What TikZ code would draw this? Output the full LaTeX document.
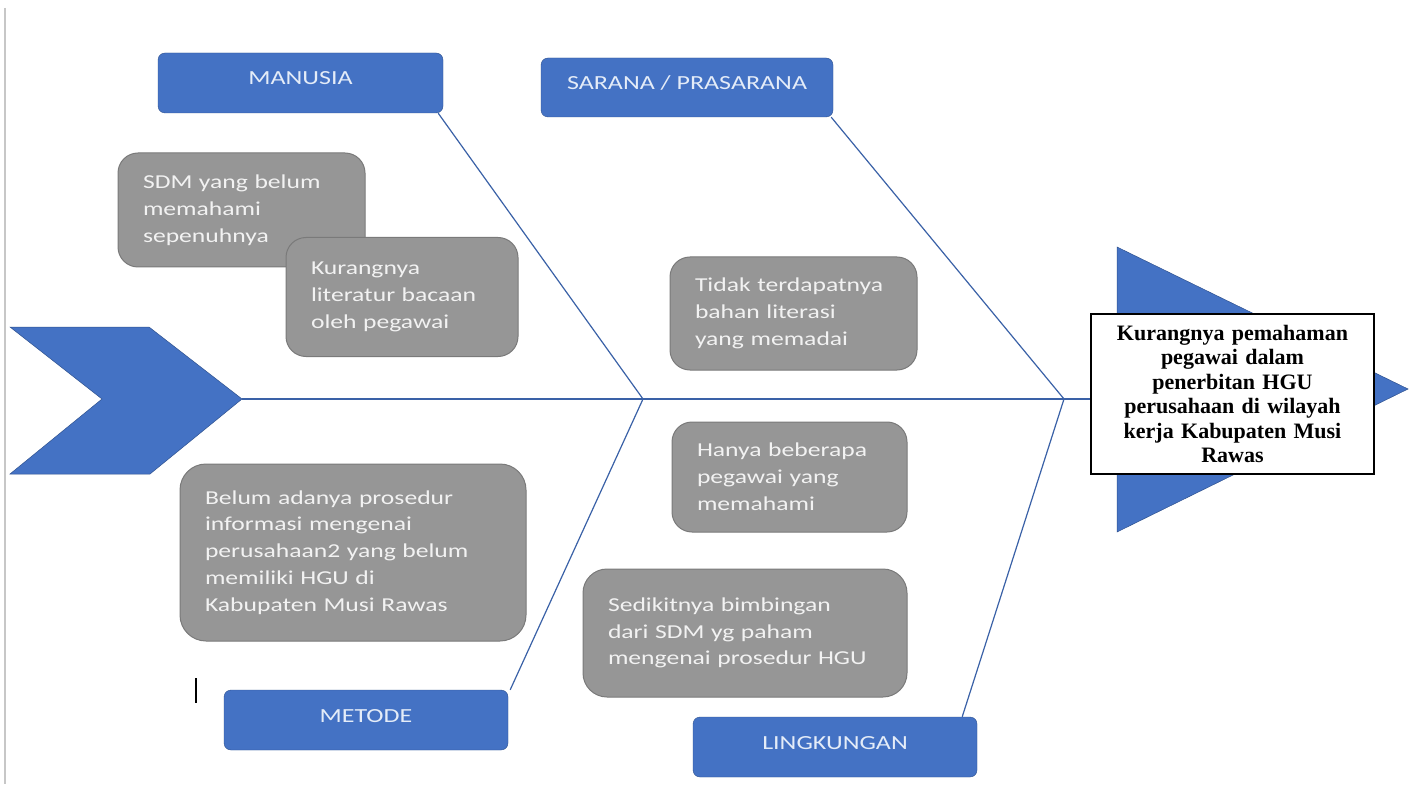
\documentclass[tikz,border=0pt]{standalone}
\usepackage{fontspec}
\newfontfamily\calib[FakeStretch=1.3]{Carlito}
\newfontfamily\tnrfont{Liberation Serif}
\definecolor{fishblue}{RGB}{68,114,196}
\definecolor{fishedge}{RGB}{47,82,143}
\definecolor{boxgray}{RGB}{150,150,150}
\definecolor{boxedge}{RGB}{122,122,122}
\definecolor{labeltext}{RGB}{228,236,248}
\begin{document}
\begin{tikzpicture}[x=1pt,y=-1pt,
  category/.style={draw=fishedge,fill=fishblue,rounded corners=7pt,inner sep=0pt,text=labeltext,
    font=\calib\fontsize{20}{24}\selectfont,text height=13pt,text depth=9pt},
  cause/.style={draw=boxedge,line width=1pt,fill=boxgray,rounded corners=20pt,inner xsep=25pt,inner ysep=0pt,
    align=left,text=white!95!black,font=\calib\fontsize{19.7}{26.8}\selectfont},
  bone/.style={draw=fishblue!85!black,line width=1.2pt}]
\useasboundingbox[fill=white] (0,0) rectangle (1415,791);
\draw[black!22,line width=2pt] (5,8) -- (5,784); % page edge
\draw[black,line width=2pt] (196,678) -- (196,703);
% tail and head of the fish
\coordinate (tail) at (242,399);
\coordinate (j1) at (643,399);
\coordinate (j2) at (1064,399);
\filldraw[fishblue,draw=fishedge,line width=0.5pt] (10,327) -- (149,327) -- (tail) -- (150,474) -- (10,474) -- (102,399) -- cycle;
\filldraw[fishblue,draw=fishedge,line width=0.5pt] (1117,247) -- (1408,389) -- (1117,532) -- cycle;
% causes
\node[cause,text width=197pt,minimum height=114pt] (sdm) at (241.5,210) {SDM yang belum\\memahami\\sepenuhnya};
\node[cause,text width=182pt,minimum height=119pt] (lit) at (402,297) {Kurangnya\\literatur bacaan\\oleh pegawai};
\node[cause,text width=197pt,minimum height=113pt] (tid) at (793.5,313.5) {Tidak terdapatnya\\bahan literasi\\yang memadai};
\node[cause,text width=185pt,minimum height=110pt] (han) at (789.5,477) {Hanya beberapa\\pegawai yang\\memahami};
\node[cause,text width=296pt,minimum height=177pt,rounded corners=26pt] (bel) at (353,552.5) {Belum adanya prosedur\\informasi mengenai\\perusahaan2 yang belum\\memiliki HGU di\\Kabupaten Musi Rawas};
\node[cause,text width=274pt,minimum height=128pt,rounded corners=24pt] (sed) at (745,633) {Sedikitnya bimbingan\\dari SDM yg paham\\mengenai prosedur HGU};
% categories
\node[category,minimum width=285pt,minimum height=60pt] (man) at (300.5,83) {MANUSIA};
\node[category,minimum width=292pt,minimum height=59pt] (sar) at (687,87.5) {SARANA / PRASARANA};
\node[category,minimum width=284pt,minimum height=60pt] (met) at (366,720) {METODE};
\node[category,minimum width=284pt,minimum height=60pt] (lin) at (835,747) {LINGKUNGAN};
% effect
\node[draw=black,line width=1.3pt,fill=white,minimum width=283pt,minimum height=160pt,text width=263pt,inner xsep=10pt,
  align=center,font=\tnrfont\bfseries\fontsize{22}{24.5}\selectfont] (effect) at (1232.5,394)
  {Kurangnya pemahaman\\pegawai dalam\\penerbitan HGU\\perusahaan di wilayah\\kerja Kabupaten Musi\\Rawas};
% bones
\draw[bone] (tail) -- (tail -| effect.west);
\draw[bone] ([xshift=-5pt]man.south east) -- (j1) -- ([xshift=2pt]met.north east);
\draw[bone] ([xshift=-2pt]sar.south east) -- (j2) -- ([xshift=-15pt]lin.north east);
\end{tikzpicture}
\end{document}
